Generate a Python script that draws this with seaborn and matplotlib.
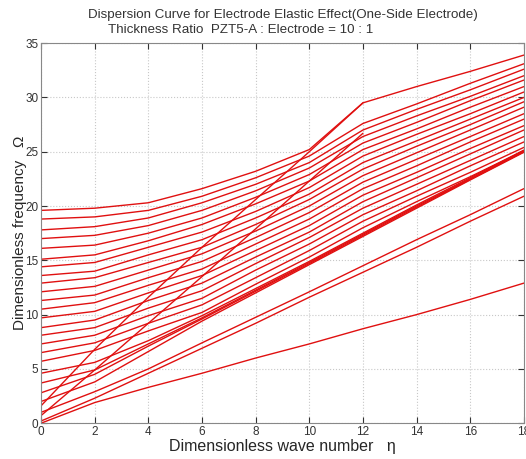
import numpy as np
import pandas as pd
import matplotlib
matplotlib.use("Agg")
import matplotlib.pyplot as plt
import seaborn as sns

# wave number grid shared by all read-off curves
eta = [0, 2, 4, 6, 8, 10, 12, 14, 16, 18]

# lowest (flexural-like) branch
lowest = [0.0, 1.9, 3.3, 4.6, 6.0, 7.3, 8.7, 10.0, 11.4, 12.9]

# two branches just below the bundle
lower_pair = [
    [0.2, 2.3, 4.6, 6.9, 9.2, 11.6, 13.9, 16.2, 18.6, 20.9],
    [1.0, 2.9, 5.0, 7.4, 9.75, 12.1, 14.5, 16.9, 19.2, 21.6],
]

# branches that collapse onto the thick line ending near 25
bundle = [
    [4.6, 5.6, 7.6, 9.9, 12.4, 14.9, 17.5, 20.1, 22.6, 25.15],
    [3.7, 4.9, 7.3, 9.7, 12.25, 14.8, 17.4, 20.0, 22.5, 25.05],
    [2.8, 4.5, 7.1, 9.6, 12.15, 14.7, 17.3, 19.9, 22.45, 25.0],
    [2.0, 3.8, 6.6, 9.4, 12.0, 14.6, 17.2, 19.8, 22.4, 24.95],
]

# upper fan of higher modes (top to bottom)
fan = [
    [19.6, 19.8, 20.3, 21.6, 23.2, 25.2, 29.5, 31.0, 32.4, 33.9],
    [18.8, 19.0, 19.6, 20.9, 22.6, 24.6, 27.6, 29.4, 31.3, 33.1],
    [17.8, 18.1, 18.9, 20.3, 22.0, 24.0, 27.0, 28.9, 30.7, 32.6],
    [17.0, 17.3, 18.2, 19.6, 21.4, 23.5, 26.4, 28.3, 30.1, 32.0],
    [16.1, 16.4, 17.5, 18.9, 20.8, 22.9, 25.8, 27.7, 29.7, 31.6],
    [15.1, 15.5, 16.8, 18.3, 20.2, 22.3, 25.2, 27.1, 29.1, 31.0],
    [14.4, 14.8, 16.2, 17.6, 19.5, 21.7, 24.6, 26.6, 28.5, 30.5],
    [13.6, 14.0, 15.5, 16.9, 18.9, 21.1, 24.0, 26.0, 28.0, 30.0],
    [12.9, 13.4, 14.8, 16.2, 18.3, 20.6, 23.4, 25.5, 27.5, 29.6],
    [12.1, 12.6, 14.1, 15.6, 17.7, 20.0, 22.8, 24.9, 27.0, 29.1],
    [11.3, 11.8, 13.4, 14.9, 17.1, 19.4, 22.2, 24.3, 26.4, 28.5],
    [10.5, 11.1, 12.7, 14.2, 16.5, 18.8, 21.6, 23.7, 25.9, 28.0],
    [9.7, 10.3, 12.0, 13.6, 15.9, 18.2, 21.0, 23.1, 25.3, 27.4],
    [8.8, 9.5, 11.3, 12.9, 15.3, 17.6, 20.4, 22.6, 24.8, 27.0],
    [8.1, 8.8, 10.6, 12.2, 14.7, 17.1, 19.8, 22.0, 24.2, 26.4],
    [7.3, 8.1, 9.9, 11.5, 14.1, 16.5, 19.2, 21.4, 23.7, 25.9],
    [6.5, 7.4, 9.2, 10.9, 13.4, 15.9, 18.6, 20.9, 23.1, 25.4],
    [5.7, 6.7, 8.5, 10.2, 12.8, 15.3, 18.0, 20.4, 22.7, 25.1],
]

# steep branches cutting through the fan
steep_eta = [0, 2, 4, 6, 8, 10, 12]
steep = [
    [1.6, 6.8, 11.6, 16.2, 20.6, 25.0, 29.5],
    [0.7, 4.9, 9.2, 13.5, 17.9, 22.3, 26.7],
]

rows = []
mode = 0
for curve in [lowest] + lower_pair + bundle + fan:
    for x, y in zip(eta, curve):
        rows.append((mode, x, y))
    mode += 1
for curve in steep:
    for x, y in zip(steep_eta, curve):
        rows.append((mode, x, y))
    mode += 1
df = pd.DataFrame(rows, columns=["mode", "eta", "omega"])

sns.set_style("white")
plt.rcParams["font.family"] = ["Liberation Sans", "DejaVu Sans"]

fig = plt.figure(figsize=(5.26, 4.59), dpi=100)
ax = fig.add_axes([0.078, 0.078, 0.918, 0.828])

sns.lineplot(data=df, x="eta", y="omega", units="mode", estimator=None,
             color="#e01010", linewidth=1.0, ax=ax, legend=False)

ax.set_xlim(0, 18)
ax.set_ylim(0, 35)
ax.set_xticks(range(0, 19, 2))
ax.set_yticks(range(0, 36, 5))
ax.grid(True, color="#c8c8c8", linestyle=":", linewidth=0.8)
ax.tick_params(direction="in", length=4, labelsize=8.5, colors="#333333",
               top=True, right=True, bottom=True, left=True, pad=2)
for s in ax.spines.values():
    s.set_color("#888888")
    s.set_linewidth(0.8)

ax.set_xlabel("Dimensionless wave number   \u03b7", fontsize=11.5, labelpad=1)
ax.set_ylabel("Dimensionless frequency   \u03a9", fontsize=11, labelpad=1)
ax.yaxis.set_label_coords(-0.03, 0.5)

fig.text(0.537, 0.967, "Dispersion Curve for Electrode Elastic Effect(One-Side Electrode)",
         ha="center", va="center", fontsize=9.6, color="#333333")
fig.text(0.458, 0.934, "Thickness Ratio  PZT5-A : Electrode = 10 : 1",
         ha="center", va="center", fontsize=9.6, color="#333333")

fig.savefig("out.png", dpi=100)
